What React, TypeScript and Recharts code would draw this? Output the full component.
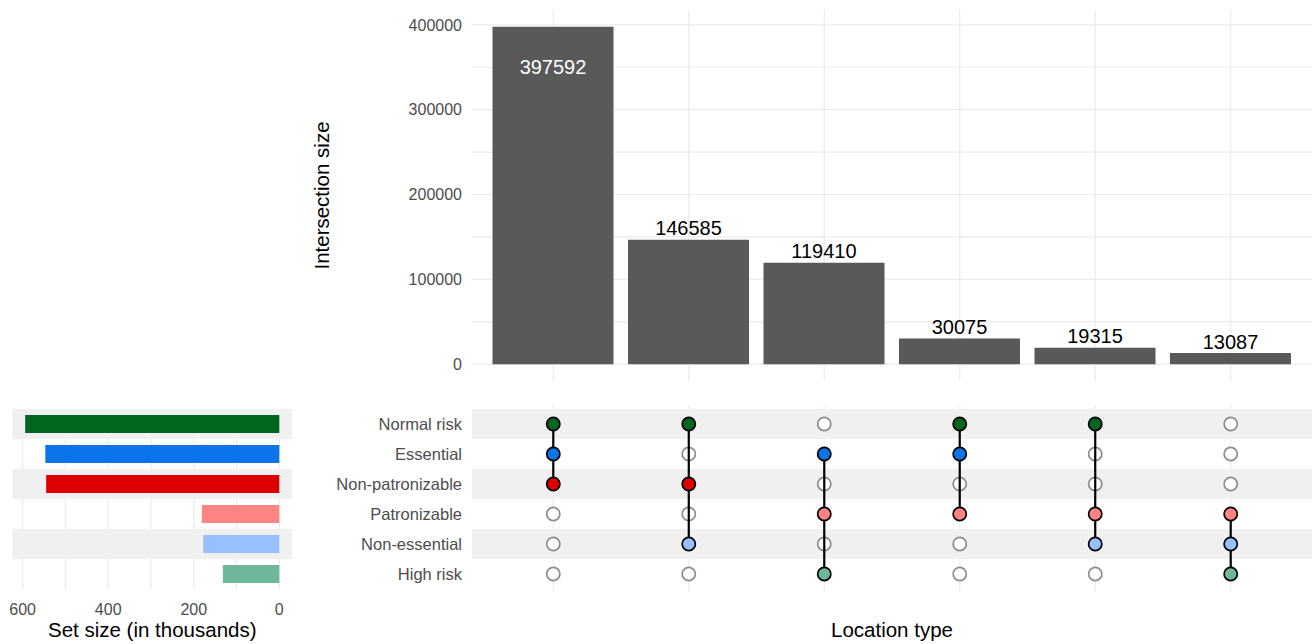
import React from 'react';
import {
  BarChart, Bar, XAxis, YAxis, CartesianGrid, LabelList, Label, Cell,
  ScatterChart, Scatter, ReferenceArea,
} from 'recharts';

// ---- data ----
const intersectionNames = ['NR+E+NP', 'NR+NP+NE', 'E+P+HR', 'NR+E+P', 'NR+P+NE', 'P+NE+HR'];
const intersectionSizes = [397592, 146585, 119410, 30075, 19315, 13087];
const setNames = ['Normal risk', 'Essential', 'Non-patronizable', 'Patronizable', 'Non-essential', 'High risk'];
const setSizes = [594, 547, 545, 181, 178, 132]; // thousands
const setColors = ['#03661f', '#0a74e8', '#dc0000', '#ff8482', '#96c0ff', '#6db79a'];
const membership = [
  [0, 1, 2],
  [0, 2, 4],
  [1, 3, 5],
  [0, 1, 3],
  [0, 3, 4],
  [3, 4, 5],
];
const intersectionTicks = [0, 50000, 100000, 150000, 200000, 250000, 300000, 350000, 400000];
const setTicks = [0, 100, 200, 300, 400, 500, 600];
const rowIdx = [0, 1, 2, 3, 4, 5];
const stripeRows = [0, 2, 4];

const topData = intersectionNames.map((name, i) => ({ name, size: intersectionSizes[i] }));
const setData = setNames.map((name, i) => ({ name, size: setSizes[i], color: setColors[i] }));
const emptyDots: { x: number; y: number }[] = [];
membership.forEach((rows, c) => {
  rowIdx.forEach((r) => {
    if (!rows.includes(r)) emptyDots.push({ x: c, y: r });
  });
});
const columnDots = membership.map((rows, c) =>
  rows.map((r) => ({ x: c, y: r, color: setColors[r] }))
);

const FONT = "'Liberation Sans', Arial, Helvetica, sans-serif";
const TICK_COLOR = '#4d4d4d';
const GRID = '#ebebeb';
const STRIPE = '#f0f0f0';

const renderBarLabel = (p: any) => {
  const { x, y, width, value, index } = p;
  const inside = index === 0;
  return (
    <text
      x={Number(x) + Number(width) / 2}
      y={inside ? Number(y) + 40.5 : Number(y) - 11.5}
      textAnchor="middle"
      dominantBaseline="central"
      fill={inside ? '#ffffff' : '#000000'}
      fontSize={20}
      fontFamily={FONT}
    >
      {value}
    </text>
  );
};

const emptyShape = (p: any) => (
  <circle cx={p.cx} cy={p.cy} r={6.6} fill="#ffffff" stroke="#8c8c8c" strokeWidth={1.7} />
);
const filledShape = (p: any) => (
  <circle cx={p.cx} cy={p.cy} r={6.6} fill={p.payload.color} stroke="#000000" strokeWidth={1.7} />
);

export default function App() {
  return (
    <div style={{ position: 'absolute', left: 0, top: 0, width: 1313, height: 644, background: '#fff', fontFamily: FONT }}>
      {/* Top: intersection sizes */}
      <div style={{ position: 'absolute', left: 0, top: 0 }}>
        <BarChart width={1313} height={395} data={topData} margin={{ top: 10, right: 1, bottom: 14, left: 0 }}>
          <CartesianGrid stroke={GRID} strokeWidth={1.2} syncWithTicks />
          <XAxis
            dataKey="name"
            tickFormatter={() => ''}
            interval={0}
            tickLine={false}
            axisLine={false}
            height={0}
            padding={{ left: 13.5, right: 13.5 }}
          />
          <YAxis
            type="number"
            domain={[-19880, 417472]}
            ticks={intersectionTicks}
            interval={0}
            tickFormatter={(v: number) => (v % 100000 === 0 ? String(v) : '')}
            width={472}
            tickSize={0}
            tickMargin={10}
            axisLine={false}
            tickLine={false}
            tick={{ fill: TICK_COLOR, fontSize: 16 }}
          >
            <Label
              value="Intersection size"
              angle={-90}
              position="insideLeft"
              offset={321.5}
              style={{ textAnchor: 'middle', fill: '#000', fontSize: 20.5 }}
            />
          </YAxis>
          <Bar dataKey="size" fill="#595959" barSize={121} isAnimationActive={false}>
            <LabelList dataKey="size" content={renderBarLabel} />
          </Bar>
        </BarChart>
      </div>

      {/* Bottom-right: membership matrix */}
      <div style={{ position: 'absolute', left: 0, top: 395 }}>
        <ScatterChart width={1313} height={249} margin={{ top: 11, right: 1, bottom: 0, left: 0 }}>
          <CartesianGrid stroke={GRID} strokeWidth={1.2} horizontal={false} syncWithTicks />
          {stripeRows.map((r) => (
            <ReferenceArea key={r} y1={r - 0.5} y2={r + 0.5} fill={STRIPE} fillOpacity={1} stroke="none" />
          ))}
          <XAxis
            type="number"
            dataKey="x"
            domain={[-0.6, 5.6]}
            ticks={rowIdx}
            interval={0}
            tickFormatter={() => ''}
            tickLine={false}
            axisLine={false}
            height={52}
          >
            <Label value="Location type" position="insideBottom" offset={7} style={{ fill: '#000', fontSize: 20.5 }} />
          </XAxis>
          <YAxis
            type="number"
            dataKey="y"
            domain={[-0.6, 5.6]}
            reversed
            ticks={rowIdx}
            interval={0}
            tickFormatter={(v: number) => setNames[v] ?? ''}
            width={472}
            tickSize={0}
            tickMargin={10}
            axisLine={false}
            tickLine={false}
            tick={{ fill: TICK_COLOR, fontSize: 16.5 }}
          />
          <Scatter data={emptyDots} shape={emptyShape} isAnimationActive={false} />
          {columnDots.map((pts, c) => (
            <Scatter
              key={c}
              data={pts}
              shape={filledShape}
              line={{ stroke: '#000000', strokeWidth: 2.2 }}
              isAnimationActive={false}
            />
          ))}
        </ScatterChart>
      </div>

      {/* Bottom-left: set sizes */}
      <div style={{ position: 'absolute', left: 0, top: 395 }}>
        <BarChart
          width={300}
          height={249}
          data={setData}
          layout="vertical"
          margin={{ top: 14, right: 8, bottom: 0, left: 12.5 }}
        >
          <CartesianGrid stroke={GRID} strokeWidth={1.2} horizontal={false} syncWithTicks />
          {stripeRows.map((r) => (
            <ReferenceArea
              key={r}
              y1={setNames[r]}
              y2={setNames[r]}
              fill={STRIPE}
              fillOpacity={1}
              stroke="none"
            />
          ))}
          <XAxis
            type="number"
            domain={[-29.7, 623.7]}
            reversed
            ticks={setTicks}
            interval={0}
            tickFormatter={(v: number) => (v % 200 === 0 ? String(v) : '')}
            tickSize={0}
            tickMargin={15}
            axisLine={false}
            tickLine={false}
            height={55}
            tick={{ fill: TICK_COLOR, fontSize: 16 }}
          >
            <Label value="Set size (in thousands)" position="insideBottom" offset={7} style={{ fill: '#000', fontSize: 20.5 }} />
          </XAxis>
          <YAxis type="category" dataKey="name" hide />
          <Bar dataKey="size" barSize={18} isAnimationActive={false}>
            {setData.map((d) => (
              <Cell key={d.name} fill={d.color} />
            ))}
          </Bar>
        </BarChart>
      </div>
    </div>
  );
}
